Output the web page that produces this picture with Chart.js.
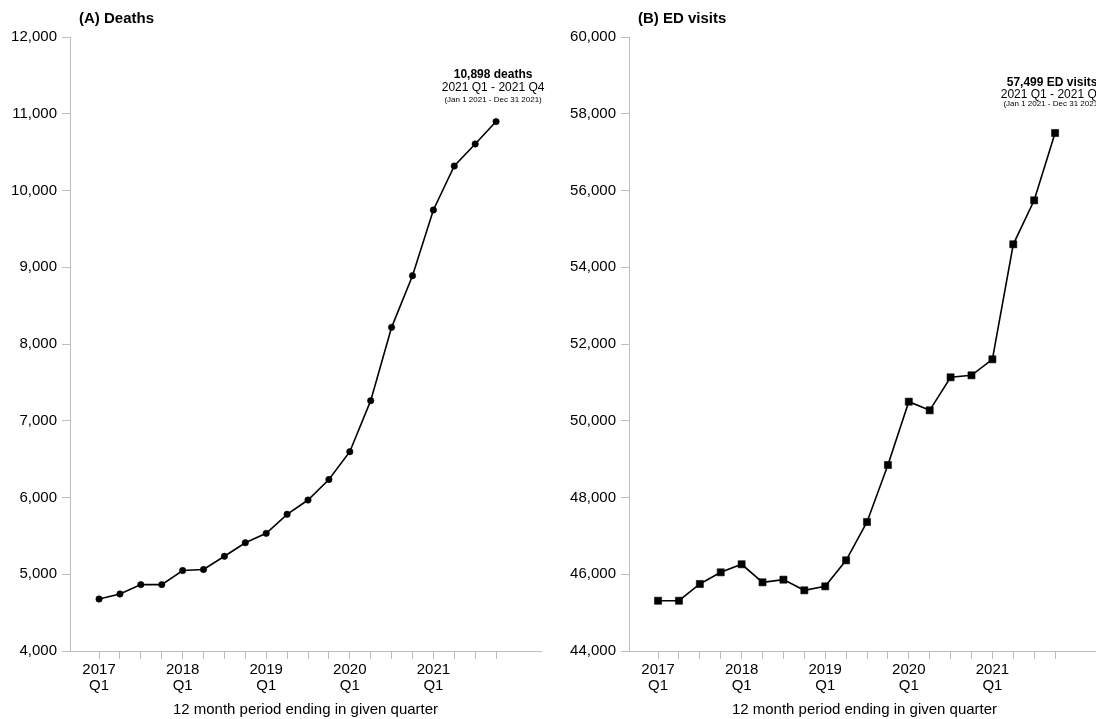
<!DOCTYPE html>
<html>
<head>
<meta charset="utf-8">
<script src="https://cdn.jsdelivr.net/npm/chart.js@4/dist/chart.umd.min.js"></script>
<style>
    html, body { margin: 0; padding: 0; background: #fff; overflow: hidden; width: 1096px; height: 719px; }
    canvas { position: absolute; top: 0; }
    #deaths-chart { left: 0; }
    #ed-chart { left: 548px; }
</style>
</head>
<body>
<canvas id="deaths-chart" width="560" height="719"></canvas>
<canvas id="ed-chart" width="560" height="719"></canvas>
<script>
// 12 month periods, ending in each quarter
const quarters = [
    '2017 Q1', '2017 Q2', '2017 Q3', '2017 Q4',
    '2018 Q1', '2018 Q2', '2018 Q3', '2018 Q4',
    '2019 Q1', '2019 Q2', '2019 Q3', '2019 Q4',
    '2020 Q1', '2020 Q2', '2020 Q3', '2020 Q4',
    '2021 Q1', '2021 Q2', '2021 Q3', '2021 Q4'
];
const deaths = [
    4677, 4743, 4865, 4865, 5048, 5062, 5234, 5411, 5533, 5781,
    5967, 6235, 6597, 7262, 8217, 8890, 9746, 10319, 10606, 10898
];
const edVisits = [
    45310, 45310, 45746, 46050, 46260, 45790, 45859, 45581, 45685, 46363,
    47362, 48847, 50497, 50272, 51132, 51184, 51601, 54598, 55744, 57499
];
const deathTicks = [4000, 5000, 6000, 7000, 8000, 9000, 10000, 11000, 12000];
const edTicks = [44000, 46000, 48000, 50000, 52000, 54000, 56000, 58000, 60000];

const FONT = "'Liberation Sans', Arial, Helvetica, sans-serif";
const AXIS_GREY = '#bdbdbd';

/**
 * Title in the top left corner + note above the last point
 */
const panelText = {
    id: 'panelText',
    afterDatasetsDraw(chart, args, opts) {
        const ctx = chart.ctx;
        const area = chart.chartArea;
        ctx.save();
        ctx.fillStyle = '#000';
        ctx.textBaseline = 'middle';

        ctx.textAlign = 'left';
        ctx.font = 'bold 15px ' + FONT;
        ctx.fillText(opts.title, area.left + 9, 19);

        const pts = chart.getDatasetMeta(0).data;
        const last = pts[pts.length - 1];
        const cx = last.x - 3;
        ctx.textAlign = 'center';
        ctx.font = 'bold 12px ' + FONT;
        ctx.fillText(opts.lines[0], cx, last.y + opts.offsets[0]);
        ctx.font = '12px ' + FONT;
        ctx.fillText(opts.lines[1], cx, last.y + opts.offsets[1]);
        ctx.font = '8px ' + FONT;
        ctx.fillText(opts.lines[2], cx, last.y + opts.offsets[2]);
        ctx.restore();
    }
};

function makePanel(canvasId, values, yTicks, pointStyle, pointRadius, yWidth, padRight, title, lines, offsets) {
    const ctx = document.getElementById(canvasId);
    const points = values.map((v, i) => ({ x: i, y: v }));

    return new Chart(ctx, {
        type: 'line',
        data: {
            datasets: [{
                data: points,
                borderColor: '#000',
                backgroundColor: '#000',
                borderWidth: 1.6,
                pointStyle: pointStyle,
                pointRadius: pointRadius,
                pointBorderWidth: 0.6,
                pointBackgroundColor: '#000',
                pointBorderColor: '#000',
                tension: 0
            }]
        },
        options: {
            responsive: false,
            animation: false,
            devicePixelRatio: 1,
            layout: { padding: { top: 37, right: padRight, bottom: 0, left: 0 } },
            plugins: {
                legend: { display: false },
                tooltip: { enabled: false },
                panelText: { title: title, lines: lines, offsets: offsets }
            },
            scales: {
                x: {
                    type: 'linear',
                    min: -1.39,
                    max: 21.15,
                    afterBuildTicks: function(scale) {
                        scale.ticks = quarters.map((q, i) => ({ value: i }));
                    },
                    afterFit: function(scale) { scale.height = 68; },
                    grid: {
                        drawOnChartArea: false,
                        drawTicks: true,
                        tickLength: 8,
                        color: AXIS_GREY
                    },
                    border: { display: true, color: AXIS_GREY, width: 1 },
                    ticks: {
                        autoSkip: false,
                        maxRotation: 0,
                        padding: 3,
                        color: '#000',
                        font: { family: FONT, size: 15, lineHeight: 1.05 },
                        callback: function(value) {
                            const q = quarters[value];
                            if (!q || !q.endsWith('Q1')) return '';
                            return q.split(' ');
                        }
                    },
                    title: {
                        display: true,
                        text: '12 month period ending in given quarter',
                        color: '#000',
                        font: { family: FONT, size: 15 },
                        padding: { top: 0, bottom: 0 }
                    }
                },
                y: {
                    min: yTicks[0],
                    max: yTicks[yTicks.length - 1],
                    afterBuildTicks: function(scale) {
                        scale.ticks = yTicks.map(v => ({ value: v }));
                    },
                    afterFit: function(scale) { scale.width = yWidth; },
                    grid: {
                        drawOnChartArea: false,
                        drawTicks: true,
                        tickLength: 8,
                        color: AXIS_GREY
                    },
                    border: { display: true, color: AXIS_GREY, width: 1 },
                    ticks: {
                        padding: 5,
                        color: '#000',
                        font: { family: FONT, size: 15 },
                        callback: function(value) {
                            return value.toLocaleString('en-US');
                        }
                    }
                }
            }
        },
        plugins: [panelText]
    });
}

makePanel('deaths-chart', deaths, deathTicks, 'circle', 3.2, 70, 19,
    '(A) Deaths',
    ['10,898 deaths', '2021 Q1 - 2021 Q4', '(Jan 1 2021 - Dec 31 2021)'],
    [-46.5, -34.3, -21.7]);

makePanel('ed-chart', edVisits, edTicks, 'rect', 5, 81, 8,
    '(B) ED visits',
    ['57,499 ED visits', '2021 Q1 - 2021 Q4', '(Jan 1 2021 - Dec 31 2021)'],
    [-50, -38.5, -29]);
</script>
</body>
</html>
